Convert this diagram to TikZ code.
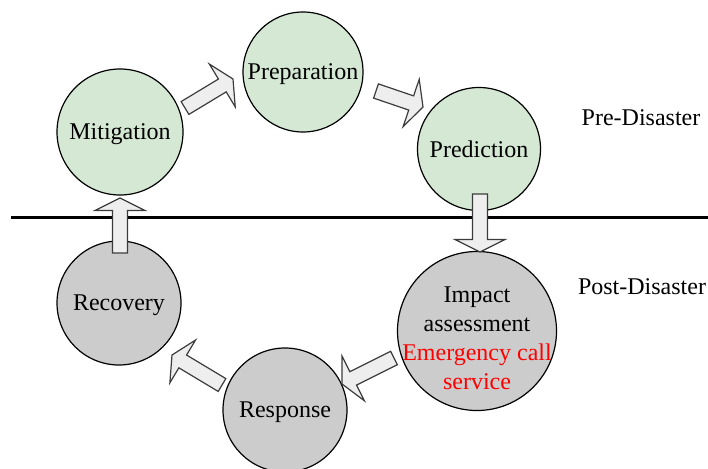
\documentclass[tikz,border=0pt]{standalone}
\usepackage{fontspec}
\setmainfont{Liberation Serif}
\usetikzlibrary{calc}
\definecolor{greenfill}{HTML}{D5E8D4}
\definecolor{grayfill}{HTML}{CCCCCC}
\definecolor{arrfill}{HTML}{EEEEEE}
\definecolor{arrdraw}{HTML}{3C3C3C}
\tikzset{
  phase/.style={circle, draw=black, line width=1.2pt, inner sep=0pt, text depth=0pt, font=\fontsize{24}{29}\selectfont},
  pre/.style={phase, fill=greenfill},
  post/.style={phase, fill=grayfill},
  blockarr/.style={draw=arrdraw, fill=arrfill, line width=1.2pt, line join=miter},
  lbl/.style={inner sep=0pt, align=center, font=\fontsize{24}{29}\selectfont}
}
\newcommand\blockarrow[2]{%
  \path[blockarr] let \p1=(#1), \p2=(#2),
    \n1={atan2(\y2-\y1,\x2-\x1)}, \n2={veclen(\x2-\x1,\y2-\y1)},
    \n3={\n2-12.5pt}, \n4={\n1+90}, \n5={\n1-90}, \n6={\n1+180}
  in (#1) -- ++(\n4:7.5pt) -- ++(\n1:\n3) -- ++(\n4:17.5pt) -- (#2)
  -- ($(#2)+(\n6:12.5pt)+(\n5:25pt)$) -- ++(\n4:17.5pt) -- ++(\n6:\n3) -- cycle;}
\begin{document}
\begin{tikzpicture}[x=1pt,y=-1pt]
\useasboundingbox (0,0) rectangle (708,468);
\clip (0,0) rectangle (708,468);
% dividing line
\coordinate (lineL) at (11,217);
\coordinate (lineR) at (708,217);
\draw[line width=3pt] (lineL) -- (lineR);
% phases
\node[pre, minimum size=126pt] (mit) at (120,132) {Mitigation};
\node[pre, minimum size=120pt] (prep) at (303,72) {Preparation};
\node[pre, minimum size=123pt] (pred) at (479,149) {Prediction};
\node[post, minimum size=159pt] (imp) at (477,331) {};
\node[lbl] (imptext) at (477,338) {Impact\\assessment\\\textcolor{red}{Emergency call}\\\textcolor{red}{service}};
\node[post, minimum size=124pt] (resp) at (285,410) {Response};
\node[post, minimum size=124pt] (rec) at (119,303) {Recovery};
% labels
\node[lbl] (prelbl) at (641,118) {Pre-Disaster};
\node[lbl] (postlbl) at (642,287) {Post-Disaster};
% arrow ends
\coordinate (a1s) at (185,108); \coordinate (a1e) at (233,79);
\coordinate (a2s) at (376,91);  \coordinate (a2e) at (423,107);
\coordinate (a3s) at (480,194); \coordinate (a3e) at (480,252);
\coordinate (a4s) at (394,358); \coordinate (a4e) at (342,384);
\coordinate (a5s) at (222,385); \coordinate (a5e) at (172,355);
\coordinate (a6s) at (120,253); \coordinate (a6e) at (120,198);
\blockarrow{a1s}{a1e}
\blockarrow{a2s}{a2e}
\blockarrow{a3s}{a3e}
\blockarrow{a4s}{a4e}
\blockarrow{a5s}{a5e}
\blockarrow{a6s}{a6e}
\end{tikzpicture}
\end{document}
